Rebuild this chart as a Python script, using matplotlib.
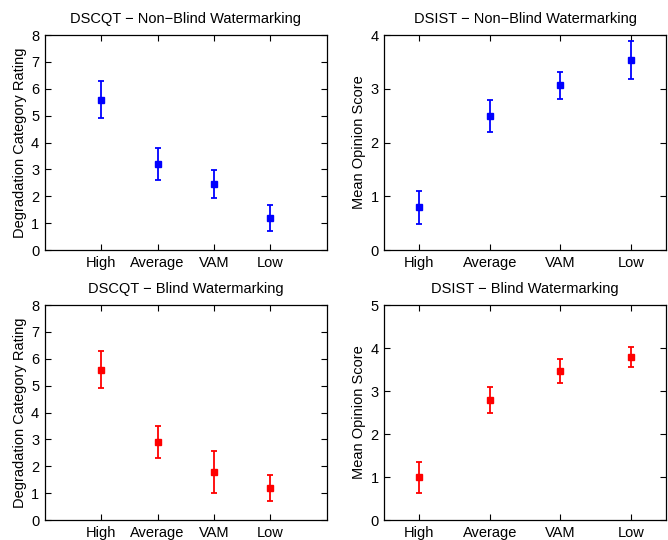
import numpy as np
import matplotlib.pyplot as plt

plt.rcParams['font.family'] = ['Liberation Sans', 'DejaVu Sans']

categories = ["High", "Average", "VAM", "Low"]

# DSCQT non-blind
dscqt_nb = [5.6, 3.2, 2.45, 1.2]
dscqt_nb_lo = [4.9, 2.6, 1.95, 0.72]
dscqt_nb_hi = [6.3, 3.8, 2.98, 1.68]

# DSIST non-blind
dsist_nb = [0.8, 2.5, 3.07, 3.53]
dsist_nb_lo = [0.48, 2.2, 2.81, 3.18]
dsist_nb_hi = [1.1, 2.8, 3.32, 3.89]

# DSCQT blind
dscqt_b = [5.6, 2.9, 1.8, 1.2]
dscqt_b_lo = [4.9, 2.29, 1.0, 0.72]
dscqt_b_hi = [6.3, 3.51, 2.58, 1.67]

# DSIST blind
dsist_b = [1.0, 2.8, 3.47, 3.8]
dsist_b_lo = [0.64, 2.5, 3.18, 3.57]
dsist_b_hi = [1.36, 3.09, 3.75, 4.03]

panels = [
    ([0.067, 0.537, 0.422, 0.398], dscqt_nb, dscqt_nb_lo, dscqt_nb_hi, "blue",
     "DSCQT \u2212 Non\u2212Blind Watermarking", "Degradation Category Rating", (0, 5), 8),
    ([0.575, 0.537, 0.422, 0.398], dsist_nb, dsist_nb_lo, dsist_nb_hi, "blue",
     "DSIST \u2212 Non\u2212Blind Watermarking", "Mean Opinion Score", (0.5, 4.5), 4),
    ([0.067, 0.037, 0.422, 0.398], dscqt_b, dscqt_b_lo, dscqt_b_hi, "red",
     "DSCQT \u2212 Blind Watermarking", "Degradation Category Rating", (0, 5), 8),
    ([0.575, 0.037, 0.422, 0.398], dsist_b, dsist_b_lo, dsist_b_hi, "red",
     "DSIST \u2212 Blind Watermarking", "Mean Opinion Score", (0.5, 4.5), 5),
]

fig = plt.figure(figsize=(6.68, 5.4), dpi=100)
x = np.arange(1, len(categories) + 1)

for rect, y, lo, hi, col, title, ylabel, xlim, ymax in panels:
    ax = fig.add_axes(rect)
    y = np.array(y)
    err = [y - np.array(lo), np.array(hi) - y]
    ax.errorbar(x, y, yerr=err, fmt="s", color=col, ecolor=col, markersize=4,
                elinewidth=1.3, capsize=2, capthick=1.3)
    ax.set_xlim(*xlim)
    ax.set_ylim(0, ymax)
    ax.set_yticks(range(0, ymax + 1))
    ax.set_xticks(x)
    ax.set_xticklabels(categories)
    ax.set_title(title, fontsize=10.5, pad=9)
    ax.set_ylabel(ylabel, fontsize=10.5, labelpad=3)
    ax.tick_params(direction="in", top=True, right=True, labelsize=10.5, length=4, pad=4)
    for s in ax.spines.values():
        s.set_linewidth(0.9)

fig.savefig("out.png", dpi=100)
